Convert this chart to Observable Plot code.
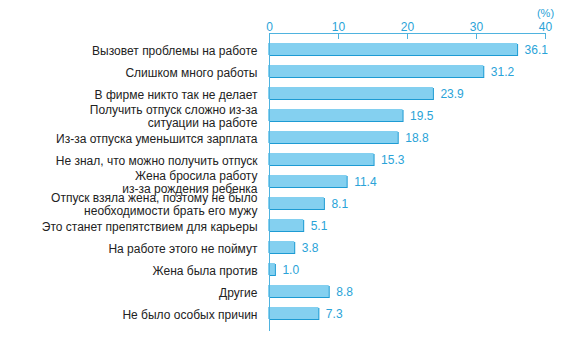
<!DOCTYPE html>
<html><head><meta charset="utf-8">
<script src="https://cdn.jsdelivr.net/npm/d3@7"></script>
<script src="https://cdn.jsdelivr.net/npm/@observablehq/plot@0.6"></script>
<style>body{margin:0;background:#fff;font-family:"Liberation Sans",Arial,sans-serif}</style>
</head><body><div id="chart"></div>
<script>
const categories = [
  "Вызовет проблемы на работе",
  "Слишком много работы",
  "В фирме никто так не делает",
  "Получить отпуск сложно из-за\nситуации на работе",
  "Из-за отпуска уменьшится зарплата",
  "Не знал, что можно получить отпуск",
  "Жена бросила работу\nиз-за рождения ребенка",
  "Отпуск взяла жена, поэтому не было\nнеобходимости брать его мужу",
  "Это станет препятствием для карьеры",
  "На работе этого не поймут",
  "Жена была против",
  "Другие",
  "Не было особых причин"
];
const values = [36.1, 31.2, 23.9, 19.5, 18.8, 15.3, 11.4, 8.1, 5.1, 3.8, 1.0, 8.8, 7.3];
const xTicks = [0, 10, 20, 30, 40];

const data = categories.map((c, i) => ({cat: c, v: values[i]}));
const light = "#84d0f0", dark = "#1d9bd3", axisC = "#4fb3df", txtBlue = "#2aa3d8";

const chart = Plot.plot({
  width: 573, height: 353,
  marginTop: 33, marginBottom: 22, marginLeft: 269, marginRight: 28,
  style: {fontFamily: "'Liberation Sans', Arial, sans-serif", fontSize: "12px"},
  x: {domain: [0, 40], ticks: xTicks},
  y: {domain: categories, padding: 0.45, label: null, axis: null},
  marks: [
    Plot.barX(data, {y: "cat", x: "v", fill: dark}),
    Plot.barX(data, {y: "cat", x: "v", fill: light, dx: -1, dy: -1}),
    Plot.text(data, {y: "cat", x: "v", text: d => d.v.toFixed(1), textAnchor: "start", dx: 6, fill: txtBlue, fontSize: 12}),
    Plot.text(data, {y: "cat", x: 0, text: "cat", textAnchor: "end", dx: -12, fill: "#222", fontSize: 12, lineHeight: 1.04}),
    Plot.axisX({anchor: "top", ticks: xTicks, tickSize: 5, dy: 5, text: null, stroke: axisC, label: null}),
    Plot.axisX({anchor: "top", ticks: xTicks, tickSize: 0, tickPadding: 3, fill: txtBlue, fontSize: 12, label: null}),
    Plot.frame({anchor: "top", stroke: axisC}),
    Plot.ruleX([0], {stroke: axisC}),
    Plot.text(["(%)"], {x: 40, frameAnchor: "top", dy: -24, fill: txtBlue, fontSize: 11})
  ]
});
document.getElementById("chart").append(chart);
</script></body></html>
